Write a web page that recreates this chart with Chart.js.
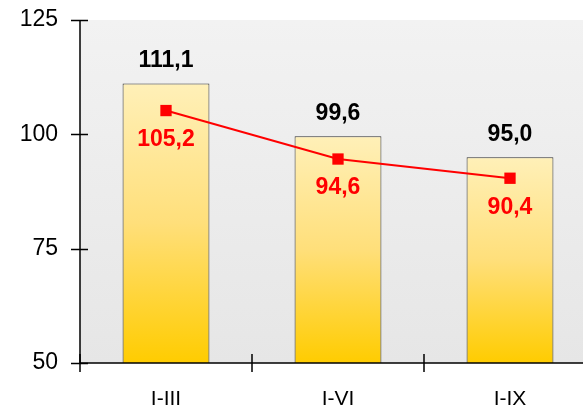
<!DOCTYPE html>
<html><head><meta charset="utf-8">
<script src="https://cdn.jsdelivr.net/npm/chart.js@4/dist/chart.umd.min.js"></script>
<style>html,body{margin:0;padding:0;overflow:hidden;background:#fff}#wrap{width:604px;height:406px}</style>
</head><body><div id="wrap"><canvas id="c" width="604" height="406"></canvas></div>
<script>
const categories = ['I-III', 'I-VI', 'I-IX'];
const barValues = [111.1, 99.6, 95.0];
const lineValues = [105.2, 94.6, 90.4];
const yTicks = [50, 75, 100, 125];

const FONT = "'Liberation Sans', Arial, sans-serif";
const fmt = v => v.toFixed(1).replace('.', ',');

function barGradient(ctx) {
  const chart = ctx.chart;
  const area = chart.chartArea;
  if (!area || ctx.dataIndex === undefined) return '#FFDD66';
  const y = chart.scales.y;
  const top = y.getPixelForValue(barValues[ctx.dataIndex]);
  const g = chart.ctx.createLinearGradient(0, top, 0, area.bottom);
  g.addColorStop(0, '#FFF0B8');
  g.addColorStop(0.5, '#FFDF7A');
  g.addColorStop(1, '#FFCC00');
  return g;
}

const bgPlugin = {
  id: 'bg',
  beforeDatasetsDraw(chart) {
    const { ctx, chartArea: a } = chart;
    const g = ctx.createLinearGradient(0, a.top, 0, a.bottom);
    g.addColorStop(0, '#F2F2F2');
    g.addColorStop(1, '#E6E6E6');
    ctx.save();
    ctx.fillStyle = g;
    ctx.fillRect(a.left, a.top, a.right - a.left, a.bottom - a.top);
    ctx.restore();
  }
};

const axisPlugin = {
  id: 'axes',
  afterDatasetsDraw(chart) {
    const { ctx, chartArea: a, scales } = chart;
    const ys = scales.y, xs = scales.x;
    ctx.save();
    ctx.strokeStyle = '#000';
    ctx.lineWidth = 1.5;
    ctx.beginPath();
    ctx.moveTo(a.left, ys.getPixelForValue(yTicks[yTicks.length - 1]));
    ctx.lineTo(a.left, a.bottom);
    ctx.lineTo(a.right, a.bottom);
    ctx.stroke();
    ctx.beginPath();
    yTicks.forEach(v => {
      const py = Math.round(ys.getPixelForValue(v)) + 0.5;
      ctx.moveTo(a.left - 9, py);
      ctx.lineTo(a.left + 8, py);
    });
    const n = categories.length;
    for (let i = 0; i < n; i++) {
      const px = i === 0 ? a.left : (xs.getPixelForValue(i - 1) + xs.getPixelForValue(i)) / 2;
      ctx.moveTo(px, a.bottom - 9);
      ctx.lineTo(px, a.bottom + 9);
    }
    ctx.stroke();
    ctx.restore();
  }
};

const labelPlugin = {
  id: 'labels',
  afterDatasetsDraw(chart) {
    const { ctx } = chart;
    ctx.save();
    ctx.textAlign = 'center';
    ctx.textBaseline = 'middle';
    ctx.font = 'bold 23px ' + FONT;
    const barMeta = chart.getDatasetMeta(1);
    barMeta.data.forEach((el, i) => {
      ctx.fillStyle = '#000';
      ctx.fillText(fmt(barValues[i]), el.x, el.y - 23);
    });
    const lineMeta = chart.getDatasetMeta(0);
    lineMeta.data.forEach((el, i) => {
      ctx.fillStyle = '#FF0000';
      ctx.fillText(fmt(lineValues[i]), el.x, el.y + 29);
    });
    ctx.restore();
  }
};

new Chart(document.getElementById('c'), {
  data: {
    labels: categories,
    datasets: [
      {
        type: 'line',
        data: lineValues,
        order: 0,
        borderColor: '#FF0000',
        backgroundColor: '#FF0000',
        borderWidth: 2,
        pointStyle: 'rect',
        pointRadius: 8,
        pointBackgroundColor: '#FF0000',
        pointBorderWidth: 0,
        tension: 0,
        fill: false
      },
      {
        type: 'bar',
        data: barValues,
        order: 1,
        backgroundColor: barGradient,
        borderColor: '#333',
        borderWidth: 1,
        borderSkipped: 'bottom',
        categoryPercentage: 1,
        barPercentage: 0.505
      }
    ]
  },
  options: {
    responsive: false,
    animation: false,
    devicePixelRatio: 1,
    layout: { padding: { top: 20, left: 0, right: 0, bottom: 0 } },
    plugins: { legend: { display: false }, tooltip: { enabled: false } },
    scales: {
      x: {
        offset: true,
        grid: { display: false, drawTicks: false },
        border: { display: false },
        ticks: { color: '#000', font: { family: FONT, size: 21 }, padding: 24 },
        afterFit: s => { s.height = 43; s.paddingLeft = 0; s.paddingRight = 0; }
      },
      y: {
        min: 50, max: 125,
        grid: { display: false, drawTicks: false },
        border: { display: false },
        ticks: { stepSize: 25, color: '#000', font: { family: FONT, size: 23 }, padding: 22 },
        afterFit: s => { s.width = 80; s.paddingTop = 0; s.paddingBottom = 0; }
      }
    }
  },
  plugins: [bgPlugin, axisPlugin, labelPlugin]
});
</script></body></html>
